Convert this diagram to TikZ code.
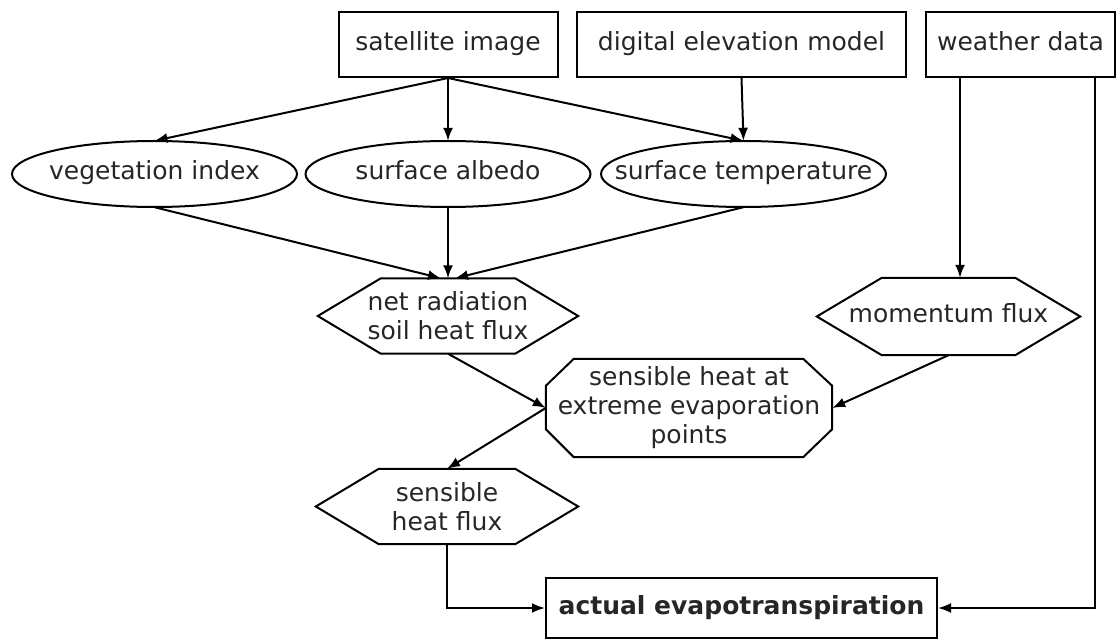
\documentclass[tikz,border=0pt]{standalone}
\usepackage{fontspec}
\setmainfont{DejaVu Sans}
\usetikzlibrary{arrows.meta}

% outline of a flat-topped hexagon around a (rectangular, undrawn) node
\newcommand\hexpath[2]{%
  \draw[outline] (#1.west) -- ([xshift=#2]#1.north west) -- ([xshift=-#2]#1.north east)
    -- (#1.east) -- ([xshift=-#2]#1.south east) -- ([xshift=#2]#1.south west) -- cycle;}
% ellipse filling the bounding rectangle of an undrawn node
\newcommand\ovalpath[1]{%
  \draw[outline] (#1.center) ellipse [x radius=142.5, y radius=33];}

\begin{document}
\begin{tikzpicture}[x=1pt,y=-1pt,
  every node/.style={font=\fontsize{25}{29}\selectfont, text=black!85, inner sep=0pt, align=center},
  oneline/.style={text height=18pt, text depth=6pt},
  srcbox/.style={oneline, draw, line width=2pt, minimum height=65pt},
  oval/.style={oneline, minimum width=285pt, minimum height=66pt},
  flat/.style={minimum height=75pt},
  outline/.style={line width=2pt, line join=miter},
  arr/.style={line width=2pt, -{Latex[length=13pt,width=10pt]}}
]
\useasboundingbox (0,0) rectangle (1117,639);

% data sources
\node[srcbox, minimum width=219pt] (sat) at (448,44.5) {satellite image};
\node[srcbox, minimum width=329pt] (dem) at (741.5,44.5) {digital elevation model};
\node[srcbox, minimum width=189pt] (wea) at (1020.5,44.5) {weather data};

% derived surface parameters
\node[oval] (veg) at (154.5,174) {vegetation index};
\node[oval] (alb) at (448,174) {surface albedo};
\node[oval] (tem) at (743.5,174) {surface temperature};
\ovalpath{veg}
\ovalpath{alb}
\ovalpath{tem}

% intermediate fluxes
\node[flat, minimum width=260pt] (net) at (448,316) {net radiation\\soil heat flux};
\node[flat, oneline, minimum width=263pt, minimum height=77pt] (mom) at (948.5,316.5) {momentum flux};
\node[minimum width=286pt, minimum height=98pt] (oct) at (689,408)
  {sensible heat at\\extreme evaporation\\points};
\node[flat, minimum width=262pt] (shf) at (447,506.5) {sensible\\heat flux};

% result
\node[srcbox, minimum width=391pt, minimum height=60pt] (aet) at (741.5,608)
  {\textbf{actual evapotranspiration}};

% shape outlines
\hexpath{net}{63pt}
\hexpath{mom}{65pt}
\hexpath{shf}{63pt}
\draw[outline] ([xshift=28pt]oct.north west) -- ([xshift=-29pt]oct.north east)
  -- ([yshift=-27pt]oct.north east) -- ([yshift=28pt]oct.south east)
  -- ([xshift=-29pt]oct.south east) -- ([xshift=28pt]oct.south west)
  -- ([yshift=28pt]oct.south west) -- ([yshift=-27pt]oct.north west) -- cycle;

% columns used by the weather data connectors
\coordinate (wx) at (960,0);
\coordinate (wy) at (1095,0);

% connectors
\draw[arr] (sat.south) -- (veg.north);
\draw[arr] (sat.south) -- (alb.north);
\draw[arr] (sat.south) -- (tem.north);
\draw[arr] (dem.south) -- (tem.north);
\draw[arr] (veg.south) -- ([xshift=-7pt]net.north);
\draw[arr] (alb.south) -- (net.north);
\draw[arr] (tem.south) -- ([xshift=7pt]net.north);
\draw[arr] (wea.south -| wx) -- (mom.north -| wx);
\draw[arr] (wea.south -| wy) |- (aet.east);
\draw[arr] (net.south) -- (oct.west);
\draw[arr] (mom.south) -- (oct.east);
\draw[arr] (oct.west) -- (shf.north);
\draw[arr] (shf.south) |- (aet.west);
\end{tikzpicture}
\end{document}
